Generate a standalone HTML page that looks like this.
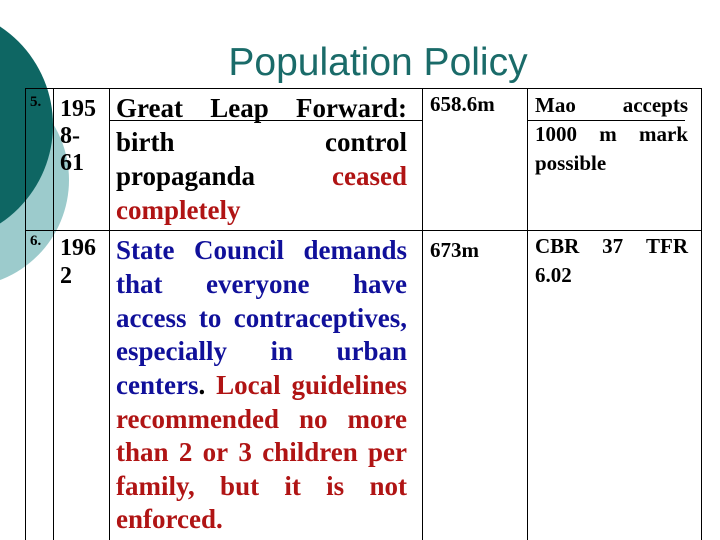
<!DOCTYPE html>
<html><head><meta charset="utf-8"><style>
body{margin:0;width:720px;height:540px;overflow:hidden;background:#fff;position:relative;font-family:"Liberation Serif",serif;font-weight:bold}
.l{position:absolute;line-height:1;white-space:nowrap}
.j{display:flex;justify-content:space-between}
.r{color:#b01414}.b{color:#10109a}
.v{position:absolute;background:#000;width:1px}
.h{position:absolute;background:#000;height:1px}
</style></head><body>
<svg width="720" height="540" style="position:absolute;left:0;top:0">
<circle cx="-38" cy="180" r="107" fill="#9ccbcc"/>
<circle cx="-65" cy="125" r="118" fill="#0e6663"/>
</svg>
<div class="l" style="left:0;width:756px;text-align:center;top:43px;font-family:'Liberation Sans',sans-serif;font-weight:normal;font-size:39px;color:#1a6b69">Population Policy</div>
<div>
<div class="h" style="left:25px;width:677px;top:88px"></div>
<div class="h" style="left:25px;width:677px;top:230px"></div>
<div class="h" style="left:109px;width:313px;top:120px"></div>
<div class="h" style="left:528px;width:157px;top:120px"></div>
<div class="v" style="left:25px;top:88px;height:452px"></div>
<div class="v" style="left:53px;top:88px;height:452px"></div>
<div class="v" style="left:109px;top:88px;height:452px"></div>
<div class="v" style="left:422px;top:88px;height:452px"></div>
<div class="v" style="left:527px;top:88px;height:452px"></div>
<div class="v" style="left:701px;top:88px;height:452px"></div>
</div>
<div>
<div class="l" style="left:30px;top:95px;font-size:15px">5.</div>
<div class="l" style="left:60px;top:97px;font-size:24px">195</div>
<div class="l" style="left:60px;top:124px;font-size:24px">8-</div>
<div class="l" style="left:60px;top:151px;font-size:24px">61</div>
<div class="l j" style="left:116px;width:291px;top:95px;font-size:27px"><span>Great</span><span>Leap</span><span>Forward:</span></div>
<div class="l j" style="left:116px;width:291px;top:129px;font-size:27px"><span>birth</span><span>control</span></div>
<div class="l j" style="left:116px;width:291px;top:163px;font-size:27px"><span>propaganda</span><span class="r">ceased</span></div>
<div class="l r" style="left:116px;top:197px;font-size:27px">completely</div>
<div class="l" style="left:430px;top:94px;font-size:21px">658.6m</div>
<div class="l j" style="left:535px;width:153px;top:95px;font-size:21px"><span>Mao</span><span>accepts</span></div>
<div class="l j" style="left:535px;width:153px;top:124px;font-size:21px"><span>1000</span><span>m</span><span>mark</span></div>
<div class="l" style="left:535px;top:153px;font-size:21px">possible</div>
</div>
<div>
<div class="l" style="left:30px;top:234px;font-size:15px">6.</div>
<div class="l" style="left:60px;top:236px;font-size:24px">196</div>
<div class="l" style="left:60px;top:264px;font-size:24px">2</div>
<div class="l j b" style="left:116px;width:291px;top:237px;font-size:27px"><span>State</span><span>Council</span><span>demands</span></div>
<div class="l j b" style="left:116px;width:291px;top:271px;font-size:27px"><span>that</span><span>everyone</span><span>have</span></div>
<div class="l j b" style="left:116px;width:291px;top:305px;font-size:27px"><span>access</span><span>to</span><span>contraceptives,</span></div>
<div class="l j b" style="left:116px;width:291px;top:338px;font-size:27px"><span>especially</span><span>in</span><span>urban</span></div>
<div class="l j" style="left:116px;width:291px;top:372px;font-size:27px"><span><span class="b">centers</span>.</span><span class="r">Local</span><span class="r">guidelines</span></div>
<div class="l j r" style="left:116px;width:291px;top:406px;font-size:27px"><span>recommended</span><span>no</span><span>more</span></div>
<div class="l j r" style="left:116px;width:291px;top:439px;font-size:27px"><span>than</span><span>2</span><span>or</span><span>3</span><span>children</span><span>per</span></div>
<div class="l j r" style="left:116px;width:291px;top:473px;font-size:27px"><span>family,</span><span>but</span><span>it</span><span>is</span><span>not</span></div>
<div class="l r" style="left:116px;top:506px;font-size:27px">enforced.</div>
<div class="l" style="left:430px;top:240px;font-size:21px">673m</div>
<div class="l j" style="left:535px;width:153px;top:236px;font-size:21px"><span>CBR</span><span>37</span><span>TFR</span></div>
<div class="l" style="left:535px;top:265px;font-size:21px">6.02</div>
</div>
</body></html>
